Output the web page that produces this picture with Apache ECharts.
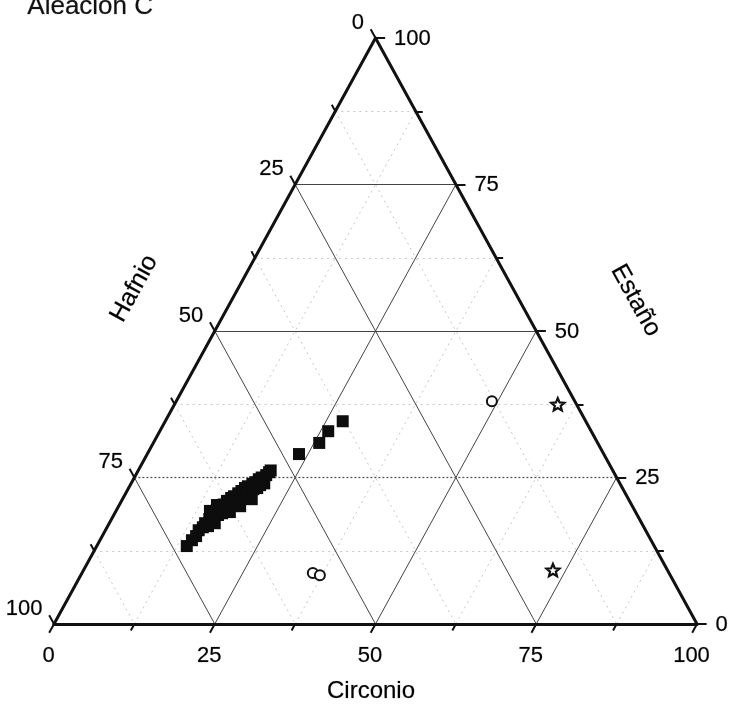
<!DOCTYPE html>
<html>
<head>
<meta charset="utf-8">
<script src="https://cdn.jsdelivr.net/npm/echarts/dist/echarts.min.js"></script>
<style>
  html, body { margin: 0; padding: 0; background: #fff; }
  #chart { width: 729px; height: 708px; }
</style>
</head>
<body>
<div id="chart"></div>
<script>
// Ternary diagram, Aleación C: compositions in Zr (Circonio), Hf (Hafnio), Sn (Estaño), %.

const tickValues = [0, 25, 50, 75, 100];
const minorTickValues = [12.5, 37.5, 62.5, 87.5];
const majorGrid = [25, 50, 75];

// Filled squares
const squareZr = [14.0, 14.3, 14.6, 14.5, 14.9, 14.9, 15.2, 15.5, 15.6, 15.3, 15.6, 15.9, 16.7, 16.2, 16.4, 17.3, 16.8, 17.1, 18.0, 17.5,
                  17.8, 18.7, 18.1, 18.4, 19.3, 18.9, 19.2, 20.0, 19.5, 19.8, 20.7, 20.3, 20.5, 20.6, 20.2, 17.5, 16.9, 16.2, 18.8, 19.5,
                  16.4, 17.8, 18.9, 20.1, 15.2, 14.6,
                  23.6, 25.8, 26.2, 27.6];
const squareSn = [13.3, 14.3, 15.0, 16.0, 16.5, 17.2, 17.9, 18.2, 16.7, 19.1, 19.4, 19.9, 18.9, 20.4, 21.0, 19.8, 21.5, 21.8, 20.6, 22.3,
                  22.7, 21.5, 23.2, 23.5, 22.3, 23.9, 24.2, 23.2, 24.7, 25.0, 24.0, 25.4, 25.9, 26.2, 23.7, 20.8, 19.8, 18.6, 22.2, 23.0,
                  17.2, 19.1, 20.1, 21.3, 20.3, 19.3,
                  29.0, 30.9, 32.9, 34.6];
const squareHf = [72.7, 71.4, 70.4, 69.5, 68.6, 67.9, 66.9, 66.3, 67.7, 65.6, 65.0, 64.2, 64.4, 63.4, 62.6, 62.9, 61.7, 61.1, 61.4, 60.2,
                  59.5, 59.8, 58.7, 58.1, 58.4, 57.2, 56.6, 56.8, 55.8, 55.2, 55.3, 54.3, 53.6, 53.2, 56.1, 61.7, 63.3, 65.2, 59.0, 57.5,
                  66.4, 63.1, 61.0, 58.6, 64.5, 66.1,
                  47.4, 43.3, 40.9, 37.8];

// Open circles
const circleZr = [49.1, 35.9, 37.2];
const circleSn = [38.0, 8.7, 8.3];
const circleHf = [12.9, 55.4, 54.5];

// Open stars
const starZr = [59.6, 73.0];
const starSn = [37.5, 9.2];
const starHf = [2.9, 17.8];

const FONT = '"Liberation Sans", Arial, Helvetica, sans-serif';
const INK = '#000';

// Ternary (Zr, Sn) -> cartesian; Sn vertex on top, Zr bottom-right, Hf bottom-left.
function toXY(zr, sn) { return [zr + sn / 2, sn]; }
function seg(a, b) { return { coords: [toXY(a[0], a[1]), toXY(b[0], b[1])] }; }

// Grid lines of constant Zr, Sn and Hf
function gridSegments(values) {
  const out = [];
  values.forEach(function (c) {
    out.push(seg([c, 0], [c, 100 - c]));          // Zr = c
    out.push(seg([0, c], [100 - c, c]));          // Sn = c
    out.push(seg([0, 100 - c], [100 - c, 0]));    // Hf = c
  });
  return out;
}

// Tick marks: short outward extensions of each grid direction
function tickSegments(values, d) {
  const out = [];
  values.forEach(function (c) {
    out.push(seg([c, 0], [c, -d]));                        // bottom (Zr)
    out.push(seg([100 - c, c], [100 - c + d, c]));         // right (Sn)
    out.push(seg([0, 100 - c], [-d, 100 - c + d]));        // left (Hf)
  });
  return out;
}

const majorSolid = gridSegments(majorGrid).filter(function (s, i) { return i !== 1; }); // Sn = 25 drawn dotted
const majorDotted = [seg([0, 25], [75, 25])];
const minorDotted = gridSegments(minorTickValues);

const frame = [seg([0, 0], [100, 0]), seg([100, 0], [0, 100]), seg([0, 100], [0, 0])];

function pts(zr, sn) { return zr.map(function (z, i) { return toXY(z, sn[i]); }); }

function labelSeries(items, labelOpt) {
  return {
    type: 'scatter', silent: true, clip: false, symbolSize: 1, z: 5,
    itemStyle: { color: 'rgba(0,0,0,0)', opacity: 1 },
    data: items.map(function (it) { return { value: it.pos, label: { formatter: it.text } }; }),
    label: Object.assign({ show: true, color: INK, fontFamily: FONT, fontSize: 22,
                           textBorderColor: 'rgba(0,0,0,0.35)', textBorderWidth: 0.6 }, labelOpt)
  };
}

const bottomLabels = tickValues.map(function (c) { return { pos: toXY(c, 0), text: String(c) }; });
const rightLabels = tickValues.map(function (c) { return { pos: toXY(100 - c, c), text: String(c) }; });
const leftLabels = tickValues.map(function (c) { return { pos: toXY(0, 100 - c), text: String(c) }; });

const starPath = 'path://M0,-10L2.645,-3.641L9.511,-3.09L4.28,1.391L5.878,8.09L0,4.5L-5.878,8.09L-4.28,1.391L-9.511,-3.09L-2.645,-3.641Z';

const chart = echarts.init(document.getElementById('chart'), null, { renderer: 'canvas' });
chart.setOption({
  animation: false,
  backgroundColor: '#fff',
  grid: { left: 54, right: 32, top: 38, bottom: 84 },
  xAxis: { type: 'value', min: 0, max: 100, show: false },
  yAxis: { type: 'value', min: 0, max: 100, show: false },
  graphic: [{
    type: 'text', left: 27, top: -6,
    style: { text: 'Aleación C', font: '26px ' + FONT, fill: '#111', stroke: 'rgba(0,0,0,0.35)', lineWidth: 0.6 }
  }],
  series: [
    { type: 'lines', coordinateSystem: 'cartesian2d', silent: true, clip: false, z: 1,
      data: minorDotted, lineStyle: { color: '#c8c8c8', width: 1, type: [2, 4], opacity: 1 } },
    { type: 'lines', coordinateSystem: 'cartesian2d', silent: true, clip: false, z: 2,
      data: majorSolid, lineStyle: { color: '#444', width: 1, opacity: 1 } },
    { type: 'lines', coordinateSystem: 'cartesian2d', silent: true, clip: false, z: 2,
      data: majorDotted, lineStyle: { color: '#555', width: 1.3, type: [2, 2], opacity: 1 } },
    { type: 'lines', coordinateSystem: 'cartesian2d', silent: true, clip: false, z: 3,
      data: tickSegments(tickValues, 1.5).concat(tickSegments(minorTickValues, 1.1)),
      lineStyle: { color: '#111', width: 2, opacity: 1 } },
    { type: 'lines', coordinateSystem: 'cartesian2d', silent: true, clip: false, z: 4,
      data: frame, lineStyle: { color: '#111', width: 3, opacity: 1, cap: 'round', join: 'round' } },

    { name: 'Cuadrados', type: 'scatter', clip: false, z: 6, symbol: 'rect', symbolSize: 12,
      itemStyle: { color: '#0d0d0d', opacity: 1 }, data: pts(squareZr, squareSn) },
    { name: 'Círculos', type: 'scatter', clip: false, z: 6, symbol: 'circle', symbolSize: 10,
      itemStyle: { color: '#fff', borderColor: '#111', borderWidth: 2, opacity: 1 }, data: pts(circleZr, circleSn) },
    { name: 'Estrellas', type: 'scatter', clip: false, z: 6, symbol: starPath, symbolSize: 13, symbolKeepAspect: true,
      itemStyle: { color: '#fff', borderColor: '#111', borderWidth: 2.2, opacity: 1 }, data: pts(starZr, starSn) },

    labelSeries(bottomLabels, { position: [-5, 32], align: 'center', verticalAlign: 'middle' }),
    labelSeries(rightLabels, { position: [19, 1], align: 'left', verticalAlign: 'middle' }),
    labelSeries(leftLabels, { position: [-11, -15], align: 'right', verticalAlign: 'middle' }),

    labelSeries([{ pos: toXY(50, 0), text: 'Circonio' }],
      { position: [-4, 68], align: 'center', verticalAlign: 'middle', fontSize: 24 }),
    labelSeries([{ pos: toXY(0, 50), text: 'Hafnio' }],
      { position: [-80, -42], align: 'center', verticalAlign: 'middle', fontSize: 25, rotate: 61 }),
    labelSeries([{ pos: toXY(50, 50), text: 'Estaño' }],
      { position: [100, -30], align: 'center', verticalAlign: 'middle', fontSize: 25, rotate: -61 })
  ]
});
</script>
</body>
</html>
